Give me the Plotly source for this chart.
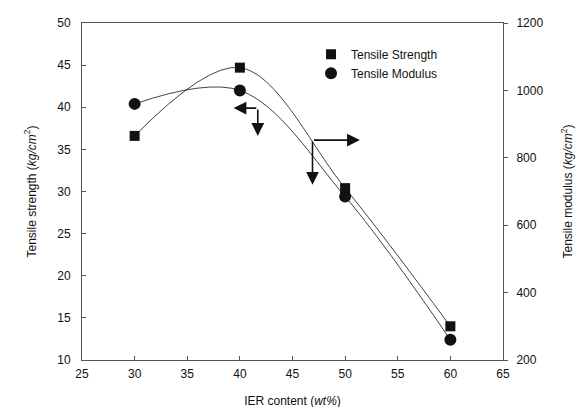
import plotly.graph_objects as go

ier_content = [30, 40, 50, 60]
tensile_strength = [36.6, 44.7, 30.4, 14.0]
tensile_modulus = [960, 1000, 685, 260]

FONT = "Liberation Sans, Arial, sans-serif"
INK = "#111111"
AX = "#555555"

fig = go.Figure()

fig.add_trace(go.Scatter(
    x=ier_content, y=tensile_strength, mode="lines+markers",
    line=dict(color=INK, width=0.8, shape="spline", smoothing=1.0),
    marker=dict(symbol="square", size=10, color=INK),
    showlegend=False, yaxis="y"))
fig.add_trace(go.Scatter(
    x=ier_content, y=tensile_modulus, mode="lines+markers",
    line=dict(color=INK, width=0.8, shape="spline", smoothing=1.0),
    marker=dict(symbol="circle", size=12, color=INK),
    showlegend=False, yaxis="y2"))

# legend entries (marker only)
fig.add_trace(go.Scatter(x=[None], y=[None], mode="markers",
                         marker=dict(symbol="square", size=10, color=INK),
                         name="Tensile Strength"))
fig.add_trace(go.Scatter(x=[None], y=[None], mode="markers",
                         marker=dict(symbol="circle", size=12, color=INK),
                         name="Tensile Modulus"))

arrow = dict(xref="x", yref="y", axref="x", ayref="y", showarrow=True,
             arrowhead=2, arrowsize=1.6, arrowwidth=1.6, arrowcolor=INK, text="")
# left-pointing indicator (strength -> left axis)
fig.add_annotation(x=39.4, y=39.9, ax=41.7, ay=39.9, **arrow)
fig.add_annotation(x=41.7, y=36.6, ax=41.7, ay=39.9, **arrow)
# right-pointing indicator (modulus -> right axis)
fig.add_annotation(x=51.4, y=36.1, ax=46.9, ay=36.1, **arrow)
fig.add_annotation(x=46.9, y=30.8, ax=46.9, ay=36.1, **arrow)

axis_common = dict(showline=True, linecolor=AX, linewidth=1, showgrid=False,
                   zeroline=False, ticks="inside", ticklen=4, tickcolor=AX,
                   automargin=False,
                   tickfont=dict(family=FONT, size=12, color=INK))

fig.update_layout(
    width=584, height=407,
    margin=dict(l=74, r=89, t=15, b=55, autoexpand=False),
    paper_bgcolor="white", plot_bgcolor="white",
    font=dict(family=FONT, size=12, color=INK),
    xaxis=dict(range=[25, 65], dtick=5, tick0=25, mirror=True,
               ticklabelstandoff=3,
               title=dict(text="IER content (<i>wt%</i>)", standoff=16,
                          font=dict(size=12)),
               **axis_common),
    yaxis=dict(range=[10, 50], dtick=5, tick0=10, ticklabelstandoff=8,
               title=dict(text="Tensile strength (<i>kg/cm</i><sup>2</sup>)",
                          standoff=18, font=dict(size=12)),
               **axis_common),
    yaxis2=dict(range=[200, 1200], dtick=200, tick0=200, overlaying="y",
                side="right", anchor="x", ticklabelstandoff=6,
                title=dict(text="Tensile modulus (<i>kg/cm</i><sup>2</sup>)",
                           standoff=21, font=dict(size=12)),
                **{**axis_common, "ticks": "outside"}),
    legend=dict(x=0.544, y=0.95, xanchor="left", yanchor="top",
                bgcolor="rgba(0,0,0,0)", font=dict(family=FONT, size=12),
                itemwidth=30, tracegroupgap=0),
)

fig.write_html("out.html")
